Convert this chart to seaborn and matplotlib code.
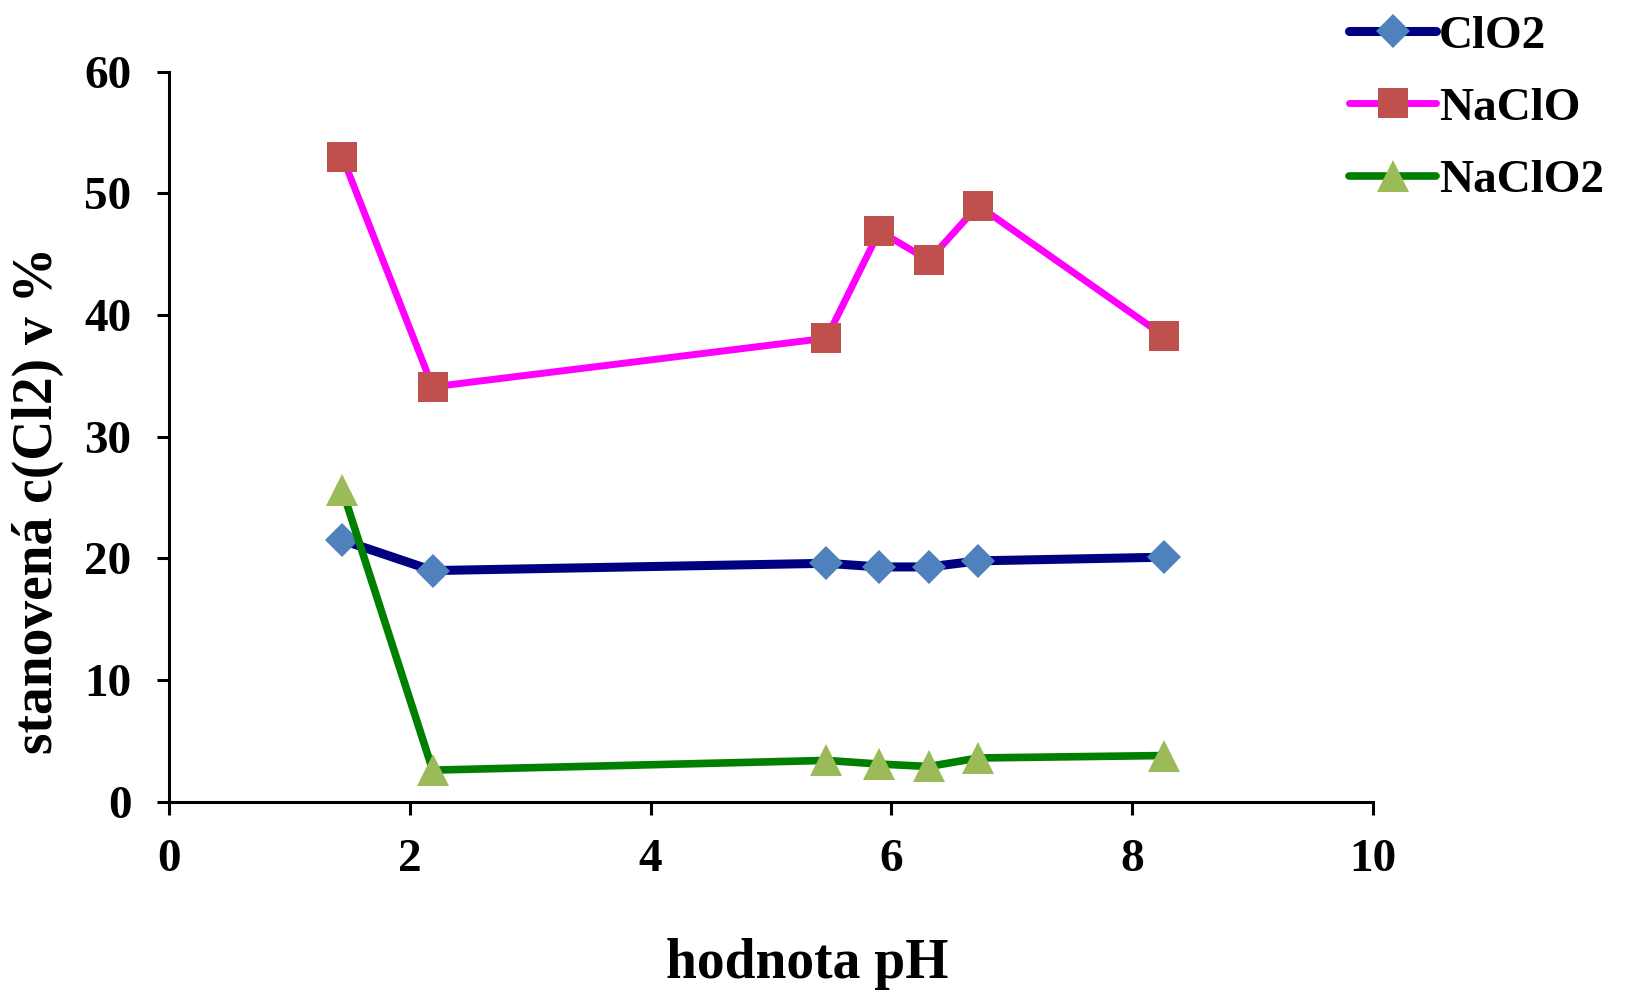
import numpy as np
import pandas as pd
import matplotlib
matplotlib.use("Agg")
import matplotlib.pyplot as plt
import seaborn as sns

# Data
ph = [1.44, 2.19, 5.46, 5.90, 6.31, 6.72, 8.26]
clo2 = [21.5, 19.0, 19.6, 19.3, 19.3, 19.8, 20.1]
naclo = [53.0, 34.1, 38.1, 46.9, 44.5, 49.0, 38.3]
naclo2 = [25.6, 2.6, 3.4, 3.1, 2.9, 3.6, 3.8]
series_names = ["ClO2", "NaClO", "NaClO2"]
xticks = [0, 2, 4, 6, 8, 10]
yticks = [0, 10, 20, 30, 40, 50, 60]
xlabel = "hodnota pH"
ylabel = "stanovená c(Cl2) v %"

sns.set_style("ticks")
plt.rcParams["font.family"] = ["Liberation Serif", "DejaVu Serif"]
plt.rcParams["font.weight"] = "bold"
for k in ["text.color", "axes.labelcolor", "xtick.color", "ytick.color", "axes.edgecolor"]:
    plt.rcParams[k] = "black"

fig = plt.figure(figsize=(16.25, 9.96), dpi=100)
ax = fig.add_axes([0.104, 0.195, 0.741, 0.733])

styles = [
    dict(color="#000080", marker="D", markersize=17, mfc="#4F81BD", mec="#4F81BD", lw=6.5),
    dict(color="#FF00FF", marker="s", markersize=22, mfc="#C0504D", mec="#C0504D", lw=5.0),
    dict(color="#008000", marker="^", markersize=23, mfc="#9BBB59", mec="#9BBB59", lw=5.5),
]
for name, vals, st in zip(series_names, [clo2, naclo, naclo2], styles):
    df = pd.DataFrame({"pH": ph, "val": vals})
    sns.lineplot(data=df, x="pH", y="val", ax=ax, sort=False, label=name,
                 color=st["color"], marker=st["marker"], markersize=st["markersize"],
                 markerfacecolor=st["mfc"], markeredgecolor=st["mec"],
                 markeredgewidth=0, linewidth=st["lw"])

ax.set_xlim(0, 10)
ax.set_ylim(0, 60)
ax.set_xticks(xticks)
ax.set_yticks(yticks)
ax.tick_params(axis="both", labelsize=34, length=9, width=2.2, pad=18, direction="out",
               colors="black")
for lab in ax.get_xticklabels() + ax.get_yticklabels():
    lab.set_fontweight("bold")
for side in ["top", "right"]:
    ax.spines[side].set_visible(False)
for side in ["left", "bottom"]:
    ax.spines[side].set_linewidth(2.2)
    ax.spines[side].set_color("black")
ax.grid(False)

ax.set_xlabel(xlabel, fontsize=40, fontweight="bold", color="black")
ax.set_ylabel(ylabel, fontsize=40, fontweight="bold", color="black")
ax.xaxis.set_label_coords(0.53, -0.222)
ax.xaxis.label.set_va("center")
ax.yaxis.set_label_coords(-0.109, 0.413)
ax.yaxis.label.set_va("center")

handles, labels = ax.get_legend_handles_labels()
ax.legend(handles, labels, loc="upper left", bbox_to_anchor=(0.804, 1.028),
          bbox_transform=fig.transFigure, frameon=False,
          handlelength=1.85, handletextpad=0.05, labelspacing=0.62,
          prop={"weight": "bold", "size": 34})

fig.savefig("out.png", dpi=100)
